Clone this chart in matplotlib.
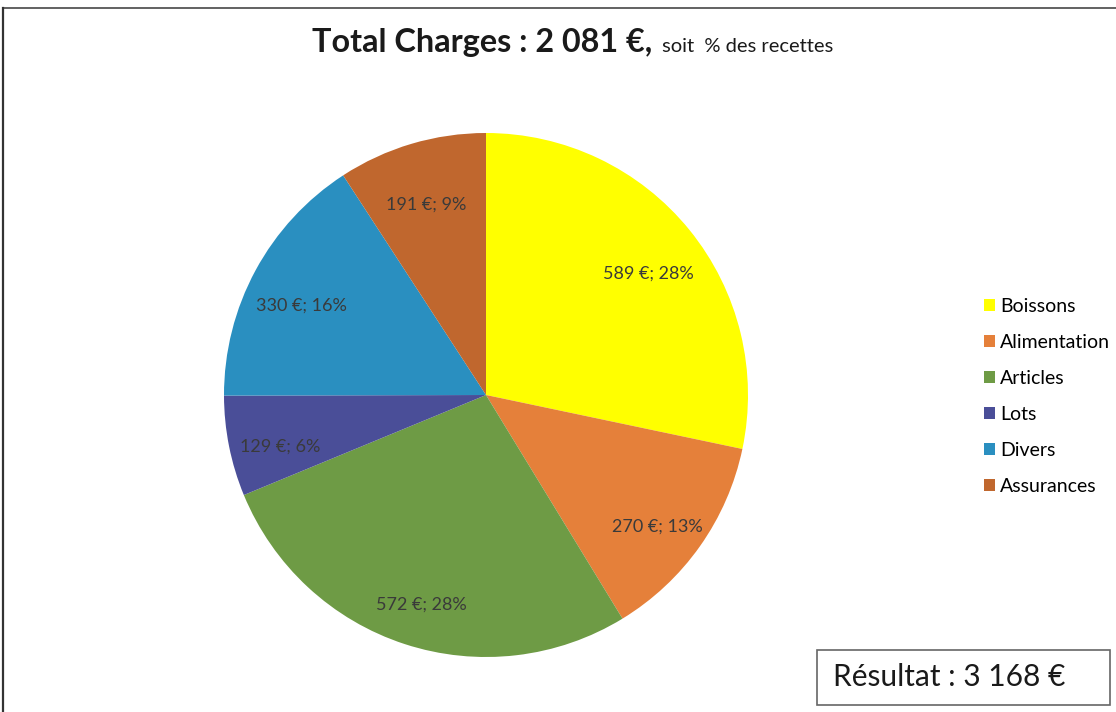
import matplotlib
matplotlib.use('Agg')
import matplotlib.pyplot as plt
from matplotlib.patches import Patch, Rectangle
from matplotlib.lines import Line2D

plt.rcParams['font.family'] = ['Lato', 'DejaVu Sans']

# données du graphique
categories = ['Boissons', 'Alimentation', 'Articles', 'Lots', 'Divers', 'Assurances']
montants = [589, 270, 572, 129, 330, 191]
pourcentages = [28, 13, 28, 6, 16, 9]  # arrondis affichés par Excel
couleurs = ['#FFFF00', '#E5803A', '#6E9B45', '#4A4E98', '#2A8FC0', '#C0672E']
total_charges = '2 081'
resultat = '3 168'

W, H = 1116, 712
fig = plt.figure(figsize=(W / 100, H / 100), dpi=100)

# cadre (haut + gauche, comme le scan)
fig.add_artist(Line2D([3 / W, 1], [1 - 8 / H, 1 - 8 / H], color='#555555', lw=1.3))
fig.add_artist(Line2D([3 / W, 3 / W], [0, 1 - 8 / H], color='#333333', lw=1.6))

# camembert : centre (486, 395), rayon 262 px
cx, cy, r = 486, 395, 262
ax = fig.add_axes([(cx - r) / W, (H - cy - r) / H, 2 * r / W, 2 * r / H])

wedges, _ = ax.pie(montants, colors=couleurs, startangle=90, counterclock=False,
                   radius=1, wedgeprops=dict(linewidth=0))

# étiquettes "montant €; %" à l'intérieur des parts
import numpy as np
for w, m, p in zip(wedges, montants, pourcentages):
    ang = np.deg2rad((w.theta1 + w.theta2) / 2)
    d = 0.8
    ax.text(d * np.cos(ang), d * np.sin(ang) - 0.04, f'{m} €; {p}%', fontsize=13,
            color='#3a3a3a', ha='center', va='center')

ax.set_xlim(-1, 1)
ax.set_ylim(-1, 1)
ax.set_aspect('equal')
ax.axis('off')

# titre en deux parties
fig.text(652 / W, 1 - 52 / H, f'Total Charges : {total_charges} €,', fontsize=23.3,
         fontweight='bold', color='#1a1a1a', ha='right', va='baseline')
fig.text(662 / W, 1 - 52 / H, 'soit  % des recettes', fontsize=14.5, color='#1a1a1a',
         ha='left', va='baseline')

# légende
handles = [Patch(facecolor=c, edgecolor='none') for c in couleurs]
fig.legend(handles, categories, loc='upper left', bbox_to_anchor=(976 / W, 1 - 290 / H),
           frameon=False, fontsize=14, handlelength=0.6, handleheight=0.6,
           handletextpad=0.25, labelspacing=0.98, borderaxespad=0)

# encadré résultat
fig.add_artist(Rectangle((817 / W, 1 - 705 / H), 293 / W, 55 / H, transform=fig.transFigure,
                         facecolor='white', edgecolor='#666666', lw=1.2))
fig.text(949 / W, 1 - 677 / H, f'Résultat : {resultat} €', fontsize=21.5, color='#1a1a1a',
         ha='center', va='center')

fig.savefig('out.png', dpi=100)
